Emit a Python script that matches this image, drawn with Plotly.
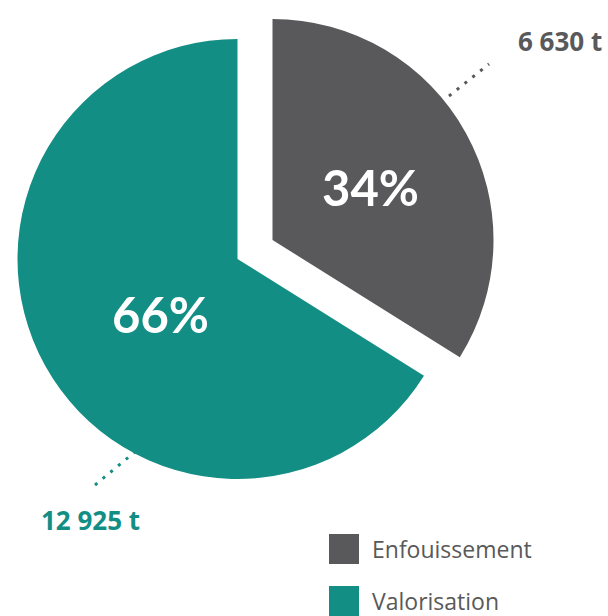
import plotly.graph_objects as go

labels = ["Enfouissement", "Valorisation"]
values = [6630, 12925]
value_text = ["6 630 t", "12 925 t"]
colors = ["#59595b", "#128e84"]

W, H = 608, 616
total = sum(values)
pct = [f"{round(100 * v / total)}%" for v in values]

def dom(cx, cy, r):
    return dict(x=[(cx - r) / W, (cx + r) / W], y=[1 - (cy + r) / H, 1 - (cy - r) / H])

fig = go.Figure()
# Valorisation (base pie)
fig.add_trace(go.Pie(
    labels=labels, values=values, sort=False, direction="clockwise", rotation=0,
    marker=dict(colors=["rgba(0,0,0,0)", colors[1]], line=dict(width=0)),
    textinfo="none", domain=dom(237.5, 259, 220), showlegend=False,
    hoverinfo="label+value+percent",
))
# Enfouissement (exploded slice)
fig.add_trace(go.Pie(
    labels=labels, values=values, sort=False, direction="clockwise", rotation=0,
    marker=dict(colors=[colors[0], "rgba(0,0,0,0)"], line=dict(width=0)),
    textinfo="none", domain=dom(272.5, 240, 221), showlegend=False,
    hoverinfo="label+value+percent",
))

shapes = []
annotations = []
# percentages
annotations.append(dict(x=370, y=187, xref="x", yref="y", text="<b>" + pct[0] + "</b>", showarrow=False,
                        xanchor="center", yanchor="middle",
                        font=dict(family="Lato", size=49, color="white")))
annotations.append(dict(x=160, y=314, xref="x", yref="y", text="<b>" + pct[1] + "</b>", showarrow=False,
                        xanchor="center", yanchor="middle",
                        font=dict(family="Lato", size=49, color="white")))
# dotted leader lines
shapes.append(dict(type="line", xref="x", yref="y", x0=449, y0=96, x1=489, y1=64,
                   line=dict(color=colors[0], width=3, dash="3px,7px")))
shapes.append(dict(type="line", xref="x", yref="y", x0=95, y0=485, x1=136, y1=451,
                   line=dict(color=colors[1], width=3, dash="3px,7px")))
annotations.append(dict(x=604, y=41, xref="x", yref="y", text="<b>" + value_text[0] + "</b>",
                        showarrow=False, xanchor="right", yanchor="middle",
                        font=dict(family="Open Sans", size=26, color=colors[0])))
annotations.append(dict(x=39, y=520, xref="x", yref="y", text="<b>" + value_text[1] + "</b>",
                        showarrow=False, xanchor="left", yanchor="middle",
                        font=dict(family="Open Sans", size=26, color=colors[1])))
# legend
for i, (lab, col) in enumerate(zip(labels, colors)):
    y0 = 534 + i * 52
    shapes.append(dict(type="rect", xref="x", yref="y", x0=329, x1=359, y0=y0, y1=y0 + 30,
                       fillcolor=col, line=dict(width=0)))
    annotations.append(dict(x=370, y=y0 + 15, xref="x", yref="y", text=lab, showarrow=False,
                            xanchor="left", yanchor="middle",
                            font=dict(family="Open Sans", size=23, color="#595959")))

fig.update_layout(
    width=W, height=H, margin=dict(l=0, r=0, t=0, b=0),
    paper_bgcolor="white", plot_bgcolor="rgba(0,0,0,0)",
    xaxis=dict(range=[0, W], visible=False, domain=[0, 1], fixedrange=True),
    yaxis=dict(range=[H, 0], visible=False, domain=[0, 1], fixedrange=True),
    shapes=shapes, annotations=annotations, showlegend=False,
)
fig.write_html(
    "out.html",
    config={"displayModeBar": False},
    post_script="document.body.style.margin='0';document.body.style.overflow='hidden';",
)
